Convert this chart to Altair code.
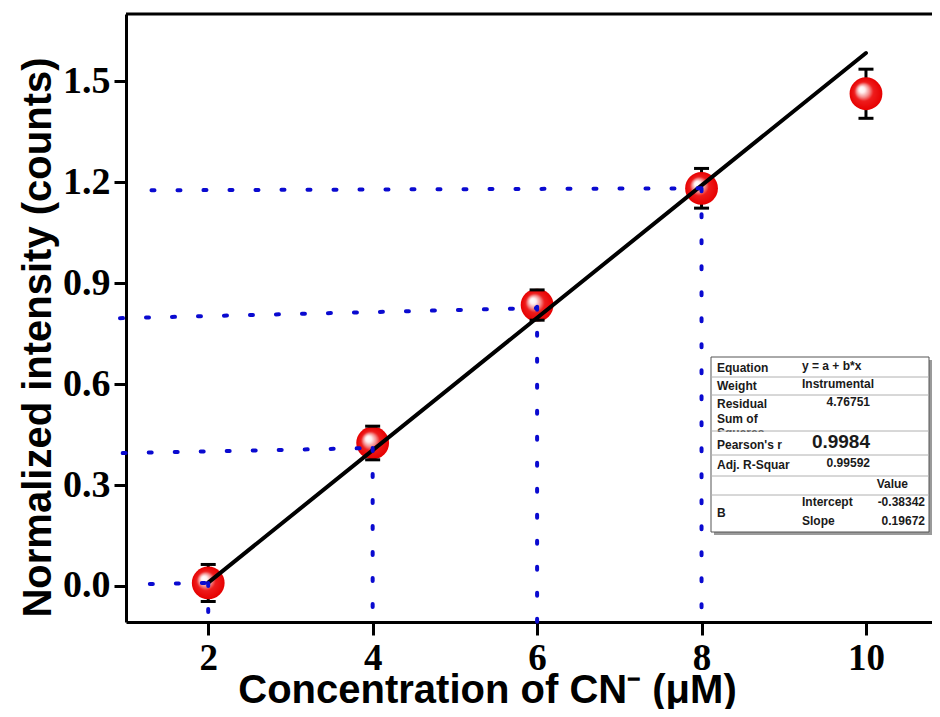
import altair as alt
import pandas as pd

# ---------------- data ----------------
conc = [2, 4, 6, 8, 10]
intensity = [0.009, 0.425, 0.835, 1.182, 1.463]
err = [0.055, 0.050, 0.045, 0.059, 0.073]

fit_x = [2, 10]
fit_y = [0.010, 1.584]

# blue dotted guide lines (horizontal: start -> end, vertical: top -> axis)
h_x1 = [1.29, 0.96, 0.927, 1.31]
h_y1 = [0.006, 0.395, 0.796, 1.176]
h_x2 = [2, 4, 6, 8]
h_y2 = [0.009, 0.410, 0.826, 1.182]
v_x = [2, 4, 6, 8]
v_top = [0.009, 0.410, 0.830, 1.182]

x_ticks = [2, 4, 6, 8, 10]
y_ticks = [0.0, 0.3, 0.6, 0.9, 1.2, 1.5]
X_DOM = [1, 10.803]
Y_DOM = [-0.107, 1.70]

# fit-result table texts
tbl_equation = ["Equation", "y = a + b*x"]
tbl_weight = ["Weight", "Instrumental"]
tbl_residual = ["Residual", "Sum of", "Squares", "4.76751"]
tbl_pearson = ["Pearson's r", "0.9984"]
tbl_adj = ["Adj. R-Squar", "0.99592"]
tbl_value = ["Value"]
tbl_b = ["B", "Intercept", "-0.38342", "Slope", "0.19672"]

# ---------------- layout ----------------
W, H = 806, 608
BLUE = "#0a0ad0"

pts = pd.DataFrame({"x": conc, "y": intensity,
                    "lo": [v - e for v, e in zip(intensity, err)],
                    "hi": [v + e for v, e in zip(intensity, err)]})
fit = pd.DataFrame({"x": fit_x, "y": fit_y})
hl = pd.DataFrame({"x": h_x1, "y": h_y1, "x2": h_x2, "y2": h_y2})
vl = pd.DataFrame({"x": v_x, "y": v_top, "y2": [Y_DOM[0]] * len(v_x)})
dummy = pd.DataFrame({"a": [0]})

x_axis = alt.Axis(values=x_ticks, format="d", title="Concentration of CN⁻ (μM)",
                  titleFont="Liberation Sans", titleFontSize=40, titleFontWeight="bold",
                  titleColor="black", titleX=361, titleY=80, titleAlign="center",
                  titleBaseline="alphabetic",
                  labelFont="Liberation Serif", labelFontSize=37, labelFontWeight="bold",
                  labelColor="black", labelPadding=5, labelFlush=False,
                  domainColor="black", domainWidth=3, tickColor="black", tickWidth=3,
                  tickSize=13, grid=False)
y_axis = alt.Axis(values=y_ticks, format=".1f", title="Normalized intensity (counts)",
                  titleFont="Liberation Sans", titleFontSize=40, titleFontWeight="bold",
                  titleColor="black", titleAngle=270, titleX=-76, titleY=323,
                  titleAlign="center", titleBaseline="alphabetic",
                  labelFont="Liberation Serif", labelFontSize=38, labelFontWeight="bold",
                  labelColor="black", labelPadding=4, labelFlush=False,
                  domainColor="black", domainWidth=3, tickColor="black", tickWidth=3,
                  tickSize=12, grid=False)


def X(f):
    return alt.X(f, type="quantitative", scale=alt.Scale(domain=X_DOM, nice=False, zero=False), axis=x_axis)


def Y(f):
    return alt.Y(f, type="quantitative", scale=alt.Scale(domain=Y_DOM, nice=False, zero=False), axis=y_axis)


layers = []

# top frame line
layers.append(alt.Chart(dummy).mark_rule(color="black", strokeWidth=3).encode(
    x=alt.value(0), x2=alt.value(W), y=alt.value(0)))

# error bar stems
layers.append(alt.Chart(pts).mark_rule(color="black", strokeWidth=3).encode(
    x=X("x"), y=Y("lo"), y2="hi"))

# glossy red spheres
sphere = alt.RadialGradient(
    gradient="radial",
    stops=[alt.GradientStop(offset=0, color="#ffffff"),
           alt.GradientStop(offset=0.18, color="#fff0f0"),
           alt.GradientStop(offset=0.40, color="#f38a8a"),
           alt.GradientStop(offset=0.58, color="#ee1c1c"),
           alt.GradientStop(offset=1, color="#e60000")],
    x1=0.35, y1=0.35, r1=0, x2=0.5, y2=0.5, r2=0.5)
layers.append(alt.Chart(pts).mark_point(filled=True, fill=sphere, size=1075, opacity=1,
                                        strokeWidth=0).encode(x=X("x"), y=Y("y")))

# linear fit
layers.append(alt.Chart(fit).mark_line(color="black", strokeWidth=4, strokeCap="round").encode(
    x=X("x"), y=Y("y")))

# dotted guides
layers.append(alt.Chart(hl).mark_rule(color=BLUE, strokeWidth=4, strokeDash=[3, 23],
                                      strokeCap="round").encode(
    x=X("x"), y=Y("y"), x2="x2", y2="y2"))
layers.append(alt.Chart(vl).mark_rule(color=BLUE, strokeWidth=4, strokeDash=[3, 23],
                                      strokeCap="round").encode(
    x=X("x"), y=Y("y"), y2="y2"))

# error bar caps
for f in ["hi", "lo"]:
    layers.append(alt.Chart(pts).mark_point(shape="M-1,0L1,0", size=225, filled=False,
                                            color="black", strokeWidth=3, opacity=1).encode(
        x=X("x"), y=Y(f)))

# ---------------- fit table (pixel positions inside plot area) ----------------
TL, TR, TT, TB = 585, 803, 343, 518
layers.append(alt.Chart(dummy).mark_rect(color="#9a9a9a").encode(
    x=alt.value(TL + 3), x2=alt.value(TR + 3), y=alt.value(TT + 3), y2=alt.value(TB + 3)))
layers.append(alt.Chart(dummy).mark_rect(fill="white", stroke="#555555", strokeWidth=1).encode(
    x=alt.value(TL), x2=alt.value(TR), y=alt.value(TT), y2=alt.value(TB)))


def txt(t, x, y, align="left", size=12, color="#1a1a1a"):
    return alt.Chart(dummy).mark_text(text=t, align=align, baseline="middle",
                                      font="Liberation Sans", fontWeight="bold",
                                      fontSize=size, color=color).encode(
        x=alt.value(x), y=alt.value(y))


LX, VX, RX, R3 = 591, 676, 744, 799
# third line of the residual label, clipped by the row below (as in the source table)
layers.append(txt(tbl_residual[2], LX, 419))
layers.append(alt.Chart(dummy).mark_rect(fill="white").encode(
    x=alt.value(TL + 1), x2=alt.value(TR - 1), y=alt.value(418), y2=alt.value(440)))
for ry in [363, 381, 417, 441, 462, 481]:
    layers.append(alt.Chart(dummy).mark_rule(color="#b0b0b0", strokeWidth=1).encode(
        x=alt.value(TL), x2=alt.value(TR), y=alt.value(ry)))

layers += [
    txt(tbl_equation[0], LX, 354), txt(tbl_equation[1], VX, 352),
    txt(tbl_weight[0], LX, 372), txt(tbl_weight[1], VX, 370),
    txt(tbl_residual[0], LX, 390), txt(tbl_residual[1], LX, 405),
    txt(tbl_residual[3], RX, 388, align="right"),
    txt(tbl_pearson[0], LX, 431), txt(tbl_pearson[1], RX, 428, align="right", size=19),
    txt(tbl_adj[0], LX, 451), txt(tbl_adj[1], RX, 449, align="right"),
    txt(tbl_value[0], 782, 470, align="right"),
    txt(tbl_b[0], LX, 499), txt(tbl_b[1], VX, 488), txt(tbl_b[2], R3, 488, align="right"),
    txt(tbl_b[3], VX, 507), txt(tbl_b[4], R3, 507, align="right"),
]

chart = alt.layer(*layers).properties(
    width=W, height=H,
    padding={"left": 118, "top": 6, "right": 0, "bottom": 87},
    autosize=alt.AutoSizeParams(type="none"),
    background="white",
).configure_view(stroke=None)

chart.save("out.html", embed_options={"renderer": "svg", "actions": False})
